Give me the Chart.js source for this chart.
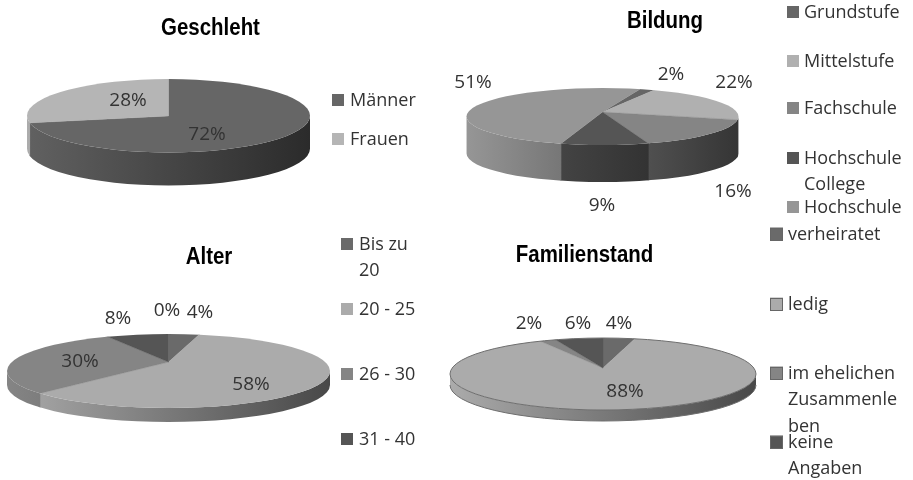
<!DOCTYPE html>
<html><head><meta charset="utf-8">
<style>
html,body{margin:0;padding:0;background:#fff;width:913px;height:480px;overflow:hidden}
canvas{position:absolute;left:0;top:0;filter:blur(0.35px)}
</style>
<script src="https://cdn.jsdelivr.net/npm/chart.js@4"></script>
</head><body>
<canvas id="c1" width="913" height="480"></canvas>
<canvas id="c2" width="913" height="480"></canvas>
<canvas id="c3" width="913" height="480"></canvas>
<canvas id="c4" width="913" height="480"></canvas>
<script>
const geschlechtLabels = ['Männer', 'Frauen'];
const geschlechtValues = [72, 28];
const geschlechtColors = ['#666666', '#b5b5b5'];

const bildungLabels = ['Grundstufe', 'Mittelstufe', 'Fachschule', 'Hochschule College', 'Hochschule'];
const bildungValues = [2, 22, 16, 9, 51];
const bildungColors = ['#666666', '#b0b0b0', '#858585', '#555555', '#969696'];

const alterLabels = ['Bis zu 20', '20 - 25', '26 - 30', '31 - 40', ''];
const alterValues = [4, 58, 30, 8, 0];
const alterColors = ['#6a6a6a', '#ababab', '#858585', '#555555', '#969696'];

const familienLabels = ['verheiratet', 'ledig', 'im ehelichen Zusammenleben', 'keine Angaben'];
const familienValues = [4, 88, 2, 6];
const familienColors = ['#6a6a6a', '#ababab', '#858585', '#555555'];

const LABEL_FONT = '19px "Open Sans"';
const LEGEND_FONT = '18px "Open Sans"';
const TITLE_FONT = 'bold 23.5px "Liberation Sans"';
const TITLE_SQUEEZE = 0.87;
const TEXT_COLOR = '#333333';
const TEXT_SHIFT = 1;

function shade(hex, f) {
  const n = parseInt(hex.slice(1), 16);
  const c = [(n >> 16) & 255, (n >> 8) & 255, n & 255].map(v => Math.round(v * f));
  return `rgb(${c[0]},${c[1]},${c[2]})`;
}

const pie3d = {
  id: 'pie3d',
  beforeDatasetsDraw(chart) {
    const g = chart.options.plugins.pie3d;
    const ctx = chart.ctx;
    const arcs = chart.getDatasetMeta(0).data;
    const cyM = (g.top + g.bottom) / 2, ry = (g.bottom - g.top) / 2;
    const colors = chart.data.datasets[0].backgroundColor;

    const rim = clock => {
      const s = Math.sin(clock), c = Math.cos(clock);
      const dx = s * g.rx, dy = -c * ry;
      const A = (dx / g.rx) ** 2 + (dy / ry) ** 2;
      const o = (g.apexY - cyM) / ry;
      const B = 2 * o * dy / ry;
      const C = o * o - 1;
      const t = (-B + Math.sqrt(B * B - 4 * A * C)) / (2 * A);
      return { x: g.cx + t * dx, y: g.apexY + t * dy };
    };

    // side wall
    arcs.forEach((el, i) => {
      if (el.circumference <= 0) return;
      let minX = Infinity, maxX = -Infinity;
      const start = el.startAngle + Math.PI / 2, end = el.endAngle + Math.PI / 2;
      const N = 720;
      for (let k = 0; k <= N; k++) {
        const p = rim(start + (end - start) * k / N);
        if (p.y >= cyM - 0.01) { minX = Math.min(minX, p.x); maxX = Math.max(maxX, p.x); }
      }
      if (minX === Infinity) return;
      ctx.save();
      ctx.beginPath();
      ctx.rect(minX - 0.4, 0, maxX - minX + 0.8, 480);
      ctx.clip();
      const grad = ctx.createLinearGradient(g.cx - g.rx, 0, g.cx + g.rx, 0);
      grad.addColorStop(0, shade(colors[i], g.wallLeft));
      grad.addColorStop(1, shade(colors[i], g.wallRight));
      ctx.fillStyle = grad;
      ctx.beginPath();
      ctx.ellipse(g.cx, cyM, g.rx, ry, 0, Math.PI, 0, true);
      ctx.lineTo(g.cx + g.rx, cyM + g.depth);
      ctx.ellipse(g.cx, cyM + g.depth, g.rx, ry, 0, 0, Math.PI, false);
      ctx.closePath();
      ctx.fill();
      ctx.restore();
    });

    // top face: library arcs, projected about the apex and clipped to the ellipse
    const R = arcs[0].outerRadius, K = 1.6;
    ctx.save();
    ctx.beginPath();
    ctx.ellipse(g.cx, cyM, g.rx, ry, 0, 0, Math.PI * 2);
    ctx.clip();
    ctx.translate(g.cx, g.apexY);
    ctx.scale(K * g.rx / R, K * ry / R);
    ctx.translate(-arcs[0].x, -arcs[0].y);
    arcs.forEach(el => el.draw(ctx));
    ctx.restore();

    if (g.outline) {
      ctx.save();
      ctx.strokeStyle = g.outline;
      ctx.lineWidth = 1;
      ctx.beginPath();
      ctx.ellipse(g.cx, cyM, g.rx, ry, 0, 0, Math.PI * 2);
      ctx.stroke();
      ctx.beginPath();
      ctx.ellipse(g.cx, cyM + g.depth, g.rx, ry, 0, 0, Math.PI);
      ctx.stroke();
      ctx.restore();
    }
    return false;
  },
  afterDraw(chart) {
    const g = chart.options.plugins.pie3d;
    const ctx = chart.ctx;
    const values = chart.data.datasets[0].data;
    const colors = chart.data.datasets[0].backgroundColor;
    ctx.save();
    ctx.textBaseline = 'middle';
    // title
    ctx.save();
    ctx.font = TITLE_FONT;
    ctx.fillStyle = '#000';
    ctx.textAlign = 'center';
    ctx.translate(g.title[1], g.title[2]);
    ctx.scale(TITLE_SQUEEZE, 1);
    ctx.fillText(g.title[0], 0, 0);
    ctx.restore();
    // value labels
    ctx.textAlign = 'center';
    ctx.font = LABEL_FONT;
    ctx.fillStyle = TEXT_COLOR;
    values.forEach((v, i) => ctx.fillText(v + '%', g.valuePos[i][0], g.valuePos[i][1] + TEXT_SHIFT));
    // legend
    ctx.textAlign = 'left';
    ctx.font = LEGEND_FONT;
    g.legend.items.forEach((it, i) => {
      const y0 = it[0];
      ctx.fillStyle = colors[i];
      const s = g.legend.size;
      ctx.fillRect(g.legend.mx, y0 - s / 2, s, s);
      if (g.legend.border) {
        ctx.strokeStyle = '#666';
        ctx.lineWidth = 1;
        ctx.strokeRect(g.legend.mx + .5, Math.round(y0 - s / 2) + .5, s - 1, s - 1);
      }
      ctx.fillStyle = TEXT_COLOR;
      it[1].forEach(([txt, y]) => ctx.fillText(txt, g.legend.tx, y + TEXT_SHIFT));
    });
    ctx.restore();
  }
};

function make(id, labels, values, colors, cfg) {
  return new Chart(document.getElementById(id), {
    type: 'pie',
    data: { labels, datasets: [{ data: values, backgroundColor: colors, borderColor: colors, borderWidth: 0.6 }] },
    options: {
      responsive: false,
      animation: false,
      rotation: cfg.rotation || 0,
      plugins: { legend: { display: false }, tooltip: { enabled: false }, title: { display: false }, pie3d: cfg }
    },
    plugins: [pie3d]
  });
}

make('c1', geschlechtLabels, geschlechtValues, geschlechtColors, {
  cx: 168.5, rx: 141.5, top: 79, bottom: 152.5, apexY: 116, depth: 33, wallLeft: 0.95, wallRight: 0.42,
  title: ['Geschleht', 210.5, 29],
  valuePos: [[207, 134], [128, 100]],
  legend: { mx: 332, tx: 350, size: 12, items: [
    [100, [['Männer', 100]]],
    [139, [['Frauen', 139]]]
  ] }
});
make('c2', bildungLabels, bildungValues, bildungColors, {
  cx: 602.5, rx: 136, rotation: 19, top: 88, bottom: 145, apexY: 112, depth: 37, wallLeft: 1, wallRight: 0.4,
  title: ['Bildung', 665, 22],
  valuePos: [[671, 74], [734, 82], [733, 191], [602, 205], [473, 82]],
  legend: { mx: 787, tx: 804, size: 12, items: [
    [12, [['Grundstufe', 12]]],
    [61, [['Mittelstufe', 61]]],
    [108, [['Fachschule', 108]]],
    [158, [['Hochschule', 158], ['College', 184]]],
    [207, [['Hochschule', 207]]]
  ] }
});
make('c3', alterLabels, alterValues, alterColors, {
  cx: 168.5, rx: 161.5, top: 334, bottom: 408, apexY: 362, depth: 14, wallLeft: 1, wallRight: 0.42,
  title: ['Alter', 209, 258],
  valuePos: [[200, 312], [251, 384], [80, 361], [118, 318], [167, 310]],
  legend: { mx: 341, tx: 359, size: 12, items: [
    [244, [['Bis zu', 244], ['20', 270]]],
    [309, [['20 - 25', 309]]],
    [374, [['26 - 30', 374]]],
    [439, [['31 - 40', 439]]]
  ] }
});
make('c4', familienLabels, familienValues, familienColors, {
  cx: 603, rx: 153, top: 338, bottom: 410, apexY: 368, depth: 11, wallLeft: 1, wallRight: 0.42, outline: '#6e6e6e',
  title: ['Familienstand', 584.5, 256],
  valuePos: [[619, 323], [625, 391], [529, 323], [578, 323]],
  legend: { mx: 770, tx: 788, size: 13, border: true, items: [
    [234, [['verheiratet', 234]]],
    [304, [['ledig', 304]]],
    [373, [['im ehelichen', 373], ['Zusammenle', 399], ['ben', 426]]],
    [442, [['keine', 442], ['Angaben', 468]]]
  ] }
});
</script>
</body></html>
